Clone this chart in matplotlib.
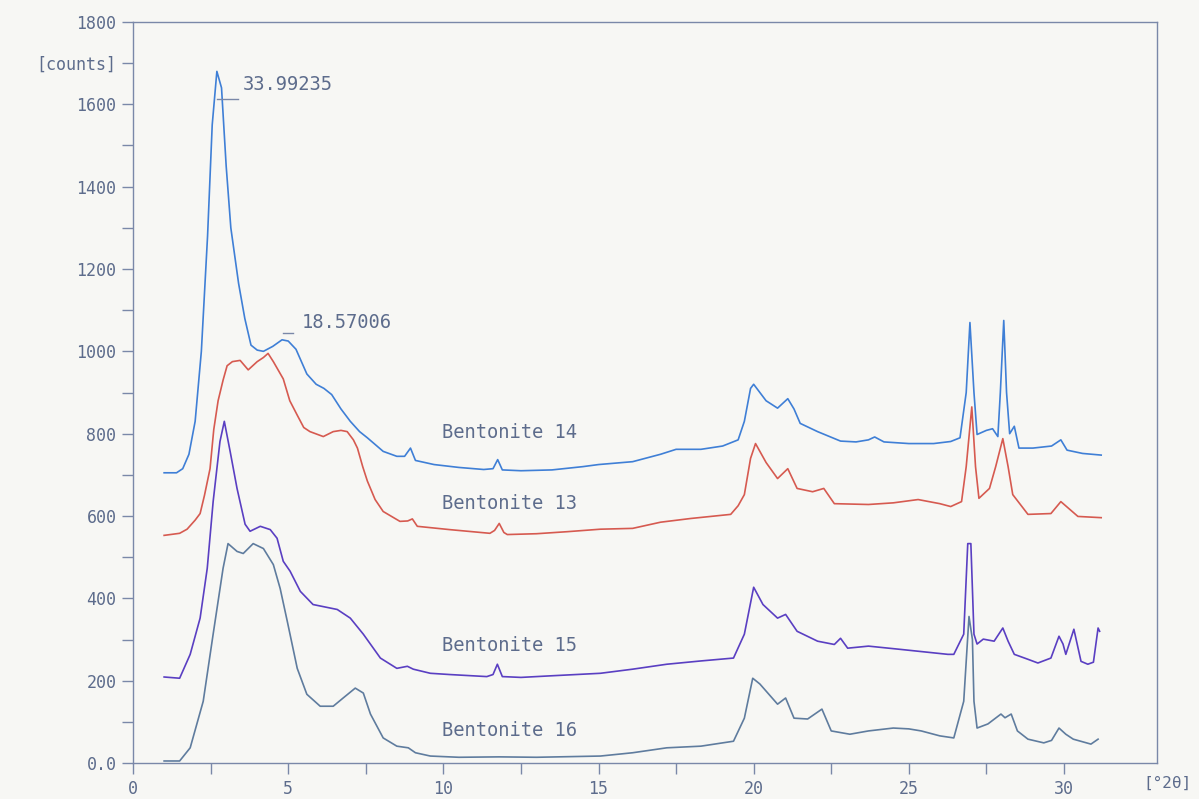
import matplotlib
matplotlib.use("Agg")
import matplotlib.pyplot as plt

# 2-theta positions and counts (Bentonite 14, 13, 15, 16)
x14 = [1.0, 1.4, 1.6, 1.8, 2.0, 2.2, 2.4, 2.55, 2.7, 2.85, 3.0, 3.15, 3.4, 3.6, 3.8, 4.0,
       4.2, 4.5, 4.8, 5.0, 5.25, 5.6, 5.9, 6.15, 6.4, 6.7, 7.0, 7.3, 7.55, 8.06, 8.5, 8.75,
       8.94, 9.1, 9.7, 10.5, 11.3, 11.6, 11.75, 11.9, 12.5, 13.5, 14.5, 15.0, 16.1, 17.0,
       17.5, 18.3, 19.0, 19.5, 19.7, 19.9, 20.0, 20.4, 20.77, 21.1, 21.3, 21.5, 22.06, 22.8,
       23.3, 23.7, 23.9, 24.2, 25.0, 25.8, 26.35, 26.65, 26.85, 26.97, 27.1, 27.2, 27.5,
       27.7, 27.87, 27.95, 28.06, 28.15, 28.25, 28.4, 28.55, 29.0, 29.6, 29.9, 30.1, 30.6, 31.2]
y14 = [705, 705, 715, 750, 830, 1000, 1280, 1550, 1680, 1640, 1450, 1300, 1165, 1080, 1015, 1003,
       1000, 1012, 1028, 1025, 1005, 945, 920, 910, 895, 860, 830, 805, 790, 757, 745, 745,
       765, 735, 725, 718, 713, 715, 737, 712, 710, 712, 720, 725, 732, 750,
       762, 762, 770, 785, 830, 910, 920, 880, 862, 885, 860, 825, 805, 782,
       780, 785, 792, 780, 776, 776, 781, 790, 900, 1070, 900, 798, 808,
       812, 793, 900, 1075, 900, 800, 818, 765, 765, 770, 785, 760, 752, 748]

x13 = [1.0, 1.5, 1.74, 2.0, 2.16, 2.3, 2.48, 2.6, 2.74, 2.9, 3.03, 3.2, 3.45, 3.71, 4.0, 4.2,
       4.35, 4.52, 4.84, 5.05, 5.29, 5.5, 5.7, 6.13, 6.45, 6.7, 6.9, 7.1, 7.23, 7.4, 7.55, 7.8,
       8.06, 8.6, 8.85, 9.0, 9.16, 10.2, 11.5, 11.65, 11.8, 11.95, 12.06, 13.0, 14.0, 15.06,
       16.1, 17.0, 17.97, 19.26, 19.5, 19.7, 19.9, 20.06, 20.4, 20.77, 21.1, 21.4, 21.9, 22.26,
       22.6, 23.7, 24.5, 25.3, 26.0, 26.35, 26.7, 26.85, 27.03, 27.15, 27.26, 27.6, 27.8, 28.03,
       28.2, 28.35, 28.84, 29.58, 29.9, 30.45, 31.2]
y13 = [553, 558, 568, 590, 606, 650, 715, 810, 880, 930, 965, 975, 978, 955, 975, 985,
       995, 975, 933, 880, 845, 815, 805, 793, 805, 808, 805, 785, 765, 720, 685, 640,
       611, 587, 588, 593, 575, 567, 558, 565, 582, 560, 555, 557, 562, 568,
       570, 585, 594, 604, 625, 652, 740, 776, 730, 691, 715, 667, 659, 667,
       630, 628, 632, 640, 630, 623, 635, 720, 865, 720, 643, 667, 720, 788,
       720, 652, 604, 606, 635, 599, 596]

x15 = [1.0, 1.5, 1.84, 2.16, 2.39, 2.58, 2.8, 2.94, 3.13, 3.35, 3.61, 3.77, 4.1, 4.42, 4.64,
       4.84, 5.06, 5.39, 5.8, 6.58, 7.0, 7.42, 7.97, 8.5, 8.84, 9.03, 9.58, 10.2, 11.4, 11.6,
       11.74, 11.9, 12.5, 13.5, 15.06, 16.1, 17.2, 18.3, 19.35, 19.7, 20.0, 20.3, 20.77, 21.03,
       21.4, 22.06, 22.6, 22.8, 23.03, 23.7, 24.74, 25.5, 26.26, 26.45, 26.77, 26.9, 27.0,
       27.1, 27.2, 27.4, 27.75, 28.03, 28.2, 28.4, 28.84, 29.16, 29.58, 29.84, 29.97, 30.06,
       30.32, 30.55, 30.77, 30.95, 31.1, 31.15]
y15 = [209, 206, 264, 352, 473, 635, 781, 830, 756, 667, 580, 563, 575, 567, 546,
       490, 466, 417, 385, 373, 352, 313, 255, 230, 235, 228, 218, 215, 210, 215,
       240, 210, 208, 212, 218, 228, 240, 248, 255, 313, 427, 385, 352, 361,
       320, 296, 288, 303, 279, 284, 276, 270, 264, 264, 313, 533, 533,
       313, 289, 301, 296, 328, 296, 264, 252, 243, 255, 308, 289, 264,
       325, 247, 240, 245, 328, 320]

x16 = [1.0, 1.5, 1.84, 2.26, 2.58, 2.9, 3.06, 3.35, 3.55, 3.87, 4.2, 4.52, 4.74, 4.97, 5.29,
       5.6, 6.03, 6.45, 6.77, 7.16, 7.42, 7.65, 8.06, 8.5, 8.87, 9.1, 9.58, 10.5, 11.8, 13.0,
       15.06, 16.1, 17.2, 18.3, 19.35, 19.7, 19.97, 20.2, 20.77, 21.03, 21.3, 21.74, 22.2,
       22.5, 23.1, 23.7, 24.5, 25.0, 25.4, 26.0, 26.45, 26.77, 26.94, 27.05, 27.1, 27.2,
       27.55, 27.97, 28.1, 28.3, 28.5, 28.84, 29.35, 29.6, 29.84, 30.06, 30.3, 30.87, 31.1]
y16 = [5, 5, 37, 150, 313, 473, 533, 514, 509, 533, 521, 482, 424, 344, 230,
       167, 138, 138, 158, 182, 170, 119, 61, 41, 37, 25, 17, 14, 15, 14,
       17, 25, 37, 41, 53, 109, 206, 192, 143, 158, 109, 107, 131,
       78, 70, 78, 85, 83, 78, 66, 61, 150, 356, 300, 150, 85,
       95, 119, 110, 119, 78, 58, 49, 55, 85, 70, 58, 46, 58]

series = [
    ("Bentonite 14", x14, y14, "#3f7fd6", 803),
    ("Bentonite 13", x13, y13, "#d65a50", 630),
    ("Bentonite 15", x15, y15, "#5a3fc2", 285),
    ("Bentonite 16", x16, y16, "#5f7c9e", 78),
]

txt = "#5d6c8c"
axc = "#7a88a8"
mono = "DejaVu Sans Mono"

fig = plt.figure(figsize=(11.99, 7.99), dpi=100, facecolor="#f7f7f4")
ax = fig.add_axes([0.111, 0.045, 0.854, 0.9275], facecolor="#f7f7f4")

for name, xs, ys, col, label_y in series:
    ax.plot(xs, ys, color=col, lw=1.2)
    ax.text(9.95, label_y, name, color=txt, fontsize=13.5, family=mono,
            ha="left", va="center")

# peak markers (d-spacings)
ax.plot([2.71, 3.39], [1613, 1613], color=axc, lw=1)
ax.text(3.55, 1647, "33.99235", color=txt, fontsize=13.5, family=mono, va="center")
ax.plot([4.84, 5.16], [1044, 1044], color=axc, lw=1)
ax.text(5.45, 1070, "18.57006", color=txt, fontsize=13.5, family=mono, va="center")

ax.set_xlim(0, 33)
ax.set_ylim(0, 1800)

yt = list(range(0, 1801, 100))
ylab = []
for v in yt:
    if v == 0:
        ylab.append("0.0")
    elif v == 1700:
        ylab.append("[counts]")
    elif v % 200 == 0:
        ylab.append(str(v))
    else:
        ylab.append("")
ax.set_yticks(yt)
ax.set_yticklabels(ylab)

xt = [i * 2.5 for i in range(13)]
xlab = [str(int(v)) if v % 5 == 0 else "" for v in xt]
ax.set_xticks(xt)
ax.set_xticklabels(xlab)

ax.tick_params(direction="out", length=8, width=1, color=axc, labelcolor=txt,
               labelsize=12, pad=4)
for lbl in ax.get_xticklabels() + ax.get_yticklabels():
    lbl.set_family(mono)

ax.text(32.55, -0.017, "[°2θ]", transform=ax.get_xaxis_transform(), color=txt,
        fontsize=11.5, family=mono, va="top", ha="left", clip_on=False)

for sp in ax.spines.values():
    sp.set_color(axc)
    sp.set_linewidth(1)

fig.savefig("out.png", dpi=100, facecolor=fig.get_facecolor())
